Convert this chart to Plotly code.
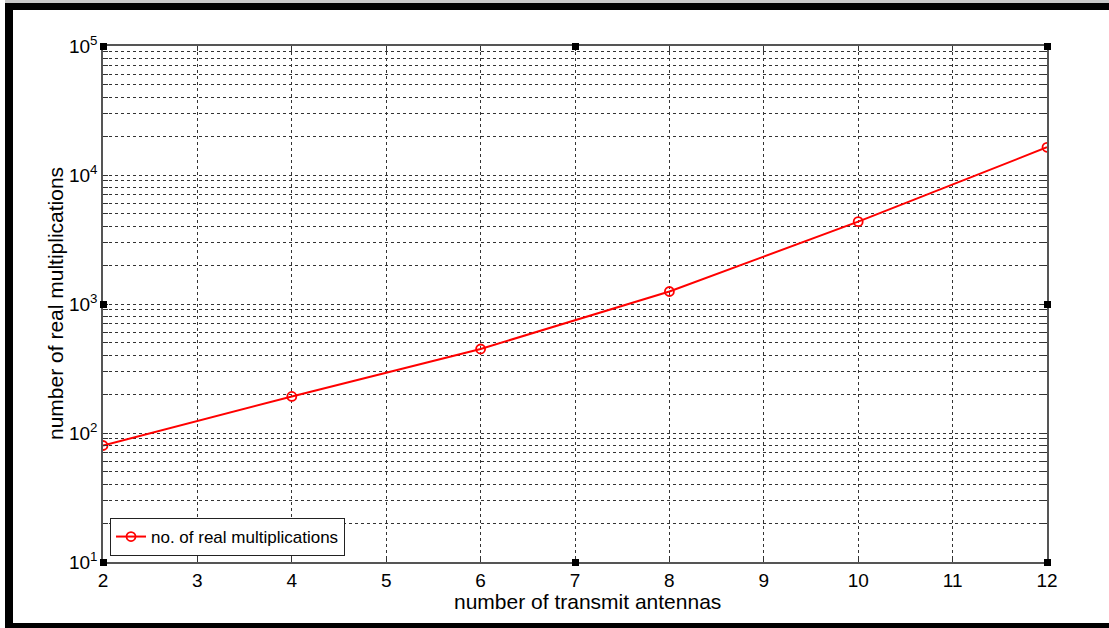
import plotly.graph_objects as go

antennas = [2, 4, 6, 8, 10, 12]
real_mults = [80, 192, 448, 1250, 4350, 16400]
x_ticks = list(range(2, 13))
y_ticks = [10, 100, 1000, 10000, 100000]
y_tick_text = ["10<sup>1</sup>", "10<sup>2</sup>", "10<sup>3</sup>", "10<sup>4</sup>", "10<sup>5</sup>"]

W, H = 1109, 628
L, R, T, B = 103, 1047, 46, 562
PW, PH = R - L, B - T


def px(x):
    return (x - L) / PW


def py(y):
    return (B - y) / PH


fig = go.Figure()
fig.add_trace(go.Scatter(
    x=antennas, y=real_mults, mode="lines+markers",
    name="no. of real multiplications",
    line=dict(color="#ff0000", width=2),
    marker=dict(symbol="circle-open", size=9, color="#ff0000", line=dict(width=1.8)),
))

font = "Liberation Sans, Arial, sans-serif"
grid = dict(showgrid=True, gridcolor="#333333", gridwidth=1, griddash="dot")

fig.update_xaxes(
    range=[2, 12], tickvals=x_ticks, ticks="inside", ticklen=5, tickcolor="#333",
    showline=True, linecolor="#555", linewidth=1.5, mirror="ticks",
    tickfont=dict(family=font, size=19, color="black"),
    zeroline=False, **grid,
)
fig.update_yaxes(
    type="log", range=[1, 5], tickvals=y_ticks, ticktext=y_tick_text,
    ticks="inside", ticklen=5, tickcolor="#333",
    showline=True, linecolor="#555", linewidth=1.5, mirror="ticks",
    tickfont=dict(family=font, size=19, color="black"),
    minor=dict(dtick="D1", ticks="inside", ticklen=5, tickcolor="#333",
               showgrid=True, gridcolor="#333333", griddash="dot", gridwidth=1),
    zeroline=False, **grid,
)

annotations = [
    dict(text="number of transmit antennas", xref="paper", yref="paper", x=px(587), y=py(601),
         xanchor="center", yanchor="middle", showarrow=False,
         font=dict(family=font, size=21, color="black")),
    dict(text="number of real multiplications", xref="paper", yref="paper", x=px(55), y=py(304),
         xanchor="center", yanchor="middle", showarrow=False, textangle=-90,
         font=dict(family=font, size=21, color="black")),
]

shapes = []
# outer black frame (top, left, bottom)
shapes.append(dict(type="rect", xref="paper", yref="paper", x0=px(5), x1=px(W + 5), y0=py(0), y1=py(3),
                   fillcolor="#c8c8c8", line_width=0, layer="above"))
shapes.append(dict(type="rect", xref="paper", yref="paper", x0=px(5), x1=px(W + 5), y0=py(3), y1=py(10),
                   fillcolor="black", line_width=0, layer="above"))
shapes.append(dict(type="rect", xref="paper", yref="paper", x0=px(5), x1=px(13), y0=py(3), y1=py(H + 5),
                   fillcolor="black", line_width=0, layer="above"))
shapes.append(dict(type="rect", xref="paper", yref="paper", x0=px(5), x1=px(W + 5), y0=py(623), y1=py(H + 5),
                   fillcolor="black", line_width=0, layer="above"))
# selection handles
for hx, hy in [(L, T), ((L + R) / 2, T), (R, T), (L, (T + B) / 2), (R, (T + B) / 2),
               (L, B), ((L + R) / 2, B), (R, B)]:
    shapes.append(dict(type="rect", xref="paper", yref="paper",
                       x0=px(hx - 3), x1=px(hx + 4), y0=py(hy - 3), y1=py(hy + 4),
                       fillcolor="black", line=dict(color="black", width=0), layer="above"))

fig.update_layout(
    width=W, height=H,
    margin=dict(l=L, r=W - R, t=T, b=H - B, autoexpand=False),
    paper_bgcolor="white", plot_bgcolor="white",
    showlegend=True,
    legend=dict(x=px(110), y=py(556), xanchor="left", yanchor="bottom",
                bgcolor="white", bordercolor="#222", borderwidth=1,
                font=dict(family=font, size=17, color="black"),
                itemwidth=30, tracegroupgap=0),
    shapes=shapes,
    annotations=annotations,
)

fig.write_html("out.html")
